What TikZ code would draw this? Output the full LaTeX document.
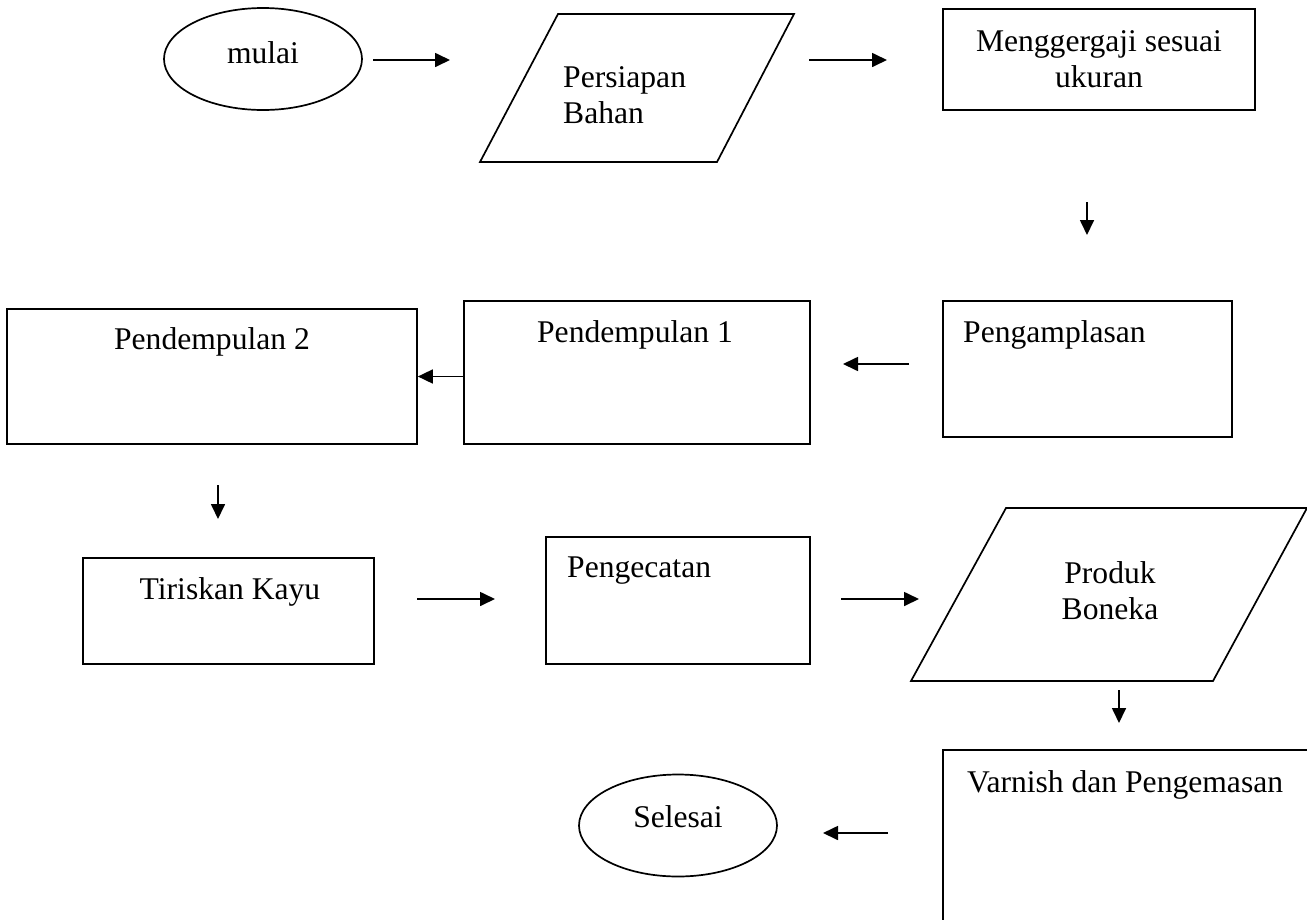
\documentclass[tikz,border=0pt]{standalone}
\usepackage{fontspec}
\setmainfont{Liberation Serif}
\usetikzlibrary{arrows.meta,shapes.geometric}
\begin{document}
\begin{tikzpicture}[x=1pt,y=-1pt,
  lw/.style={line width=1.7pt},
  box/.style={draw, lw, rectangle, inner sep=0pt},
  term/.style={draw, lw, ellipse, inner sep=0pt, minimum width=198pt, minimum height=102pt},
  lbl/.style={font=\fontsize{31.6}{36}\selectfont, inner sep=0pt, anchor=base},
  arr/.style={lw, -{Triangle[length=15pt,width=14pt]}}
]
\clip (0,0) rectangle (1307,919);
\fill[white] (0,0) rectangle (1307,919);

% terminals
\node[term] (mulai) at (263,59) {};
\node[lbl] (tmulai) at (263,63) {mulai};
\node[term] (selesai) at (678,825.5) {};
\node[lbl] (tselesai) at (678,827) {Selesai};

% parallelograms
\draw[lw] (558,14) coordinate (pa1) -- (794,14) coordinate (pa2) -- (717,162) coordinate (pa3) -- (480,162) coordinate (pa4) -- cycle;
\node[lbl, anchor=base west, align=left] (tpersiapan) at (563,123) {Persiapan\\Bahan};
\draw[lw] (1006,508) coordinate (pb1) -- (1307,508) coordinate (pb2) -- (1213,681) coordinate (pb3) -- (911,681) coordinate (pb4) -- cycle;
\node[lbl, align=center] (tproduk) at (1110,619) {Produk\\Boneka};

% boxes
\node[box, minimum width=312pt, minimum height=101pt] (mgg) at (1099,59.5) {};
\node[lbl, align=center] (tmgg) at (1099,87) {Menggergaji sesuai\\ukuran};
\node[box, minimum width=289pt, minimum height=136pt] (amp) at (1087.5,369) {};
\node[lbl, anchor=base west] (tamp) at (963,342) {Pengamplasan};
\node[box, minimum width=346pt, minimum height=143pt] (p1) at (637,372.5) {};
\node[lbl] (tp1) at (635,342) {Pendempulan 1};
\node[box, minimum width=410pt, minimum height=135pt] (p2) at (212,376.5) {};
\node[lbl] (tp2) at (212,349) {Pendempulan 2};
\node[box, minimum width=291pt, minimum height=106pt] (tir) at (228.5,611) {};
\node[lbl] (ttir) at (230,599) {Tiriskan Kayu};
\node[box, minimum width=264pt, minimum height=127pt] (cat) at (678,600.5) {};
\node[lbl, anchor=base west] (tcat) at (567,577) {Pengecatan};
\node[box, minimum width=374pt, minimum height=180pt] (var) at (1130,840) {};
\node[lbl, anchor=base west] (tvar) at (967,792) {Varnish dan Pengemasan};

% arrow ends
\coordinate (a1s) at (373,60);   \coordinate (a1e) at (450,60);
\coordinate (a2s) at (809,60);   \coordinate (a2e) at (887,60);
\coordinate (a3s) at (1087,202); \coordinate (a3e) at (1087,235);
\coordinate (a4s) at (909,364);  \coordinate (a4e) at (843,364);
\coordinate (a6s) at (218,485);  \coordinate (a6e) at (218,519);
\coordinate (a7s) at (417,599);  \coordinate (a7e) at (495,599);
\coordinate (a8s) at (841,599);  \coordinate (a8e) at (919,599);
\coordinate (a9s) at (1119,690); \coordinate (a9e) at (1119,723);
\coordinate (a10s) at (888,833); \coordinate (a10e) at (823,833);

\draw[arr] (a1s) -- (a1e);
\draw[arr] (a2s) -- (a2e);
\draw[arr] (a3s) -- (a3e);
\draw[arr] (a4s) -- (a4e);
\draw[arr] (p1.west |- p2.east) -- (p2.east);
\draw[arr] (a6s) -- (a6e);
\draw[arr] (a7s) -- (a7e);
\draw[arr] (a8s) -- (a8e);
\draw[arr] (a9s) -- (a9e);
\draw[arr] (a10s) -- (a10e);
\end{tikzpicture}
\end{document}
